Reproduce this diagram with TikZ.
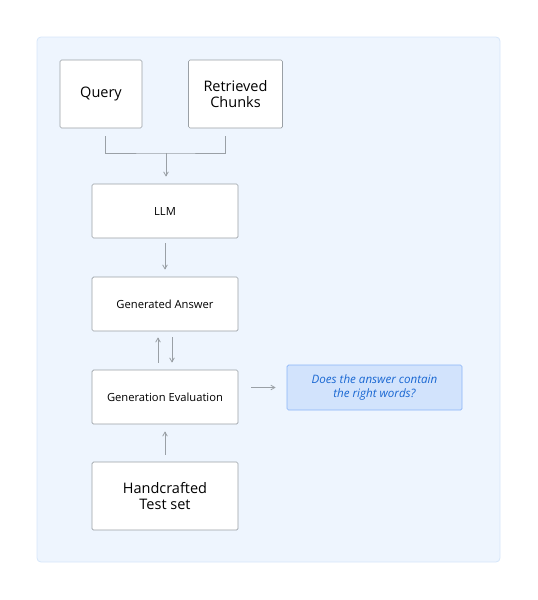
\documentclass[tikz,border=0pt]{standalone}
\usepackage{fontspec}
\setmainfont{Open Sans}
\usetikzlibrary{arrows}
\definecolor{panelfill}{HTML}{EEF5FE}
\definecolor{paneldraw}{HTML}{D6E6FA}
\definecolor{boxdraw}{HTML}{9AA0A6}
\definecolor{linegray}{HTML}{9AA0A6}
\definecolor{notefill}{HTML}{D2E3FC}
\definecolor{notedraw}{HTML}{8AB4F8}
\definecolor{notetext}{HTML}{1967D2}
\begin{document}
\begin{tikzpicture}[x=1pt, y=-1pt, >=angle 60,
    box/.style={draw=boxdraw, line width=0.7pt, fill=white, rounded corners=1.5pt, align=center, inner sep=0pt},
    bigbox/.style={box, font=\fontsize{14.5}{16.5}\selectfont},
    smallbox/.style={box, minimum width=146pt, minimum height=54pt, font=\fontsize{11.2}{13}\selectfont},
    notebox/.style={draw=notedraw, line width=0.7pt, fill=notefill, rounded corners=1.5pt, align=center,
        text=notetext, minimum width=175pt, minimum height=45pt, inner sep=0pt, font=\fontsize{11.6}{14}\selectfont\itshape},
    link/.style={->, draw=linegray, line width=0.8pt}]
         \useasboundingbox (0,0) rectangle (538,600);
         \draw[fill=panelfill, draw=paneldraw, line width=0.8pt, rounded corners=4pt] (37,37) rectangle (500,562);
         \node[bigbox, minimum width=82pt, minimum height=68pt] (query) at (101,94) {Query};
         \node[bigbox, minimum width=94pt, minimum height=68pt] (chunks) at (235.5,94) {Retrieved\\Chunks};
         \node[smallbox] (llm) at (165,211) {LLM};
         \node[smallbox] (answer) at (165,304) {Generated Answer};
         \node[smallbox] (evaluation) at (165,397) {Generation Evaluation};
         \node[bigbox, minimum width=146pt, minimum height=68pt] (testset) at (165,496) {Handcrafted\\Test set};
         \node[notebox] (note) at (374.5,387.5) {Does the answer contain\\the right words?};
         % joining query and chunks
         \coordinate (jleft) at (105,136);
         \coordinate (jright) at (225,136);
         \coordinate (jmid) at (166,153);
         \draw[draw=linegray, line width=0.8pt] (jleft) |- (jmid) -| (jright);
         \draw[link, shorten >=7pt] (jmid) -- (jmid |- llm.north);
         \draw[link, shorten <=5pt, shorten >=7pt] (llm) -- (answer);
         \draw[link, shorten <=7pt, shorten >=6pt] ([xshift=-7pt]evaluation.north) -- ([xshift=-7pt]answer.south);
         \draw[link, shorten <=6pt, shorten >=7pt] ([xshift=7pt]answer.south) -- ([xshift=7pt]evaluation.north);
         \draw[link, shorten <=13pt, shorten >=11pt] (evaluation.east |- note.west) -- (note.west);
         \draw[link, shorten <=7pt, shorten >=7pt] (testset) -- (evaluation);
        \end{tikzpicture}
\end{document}
